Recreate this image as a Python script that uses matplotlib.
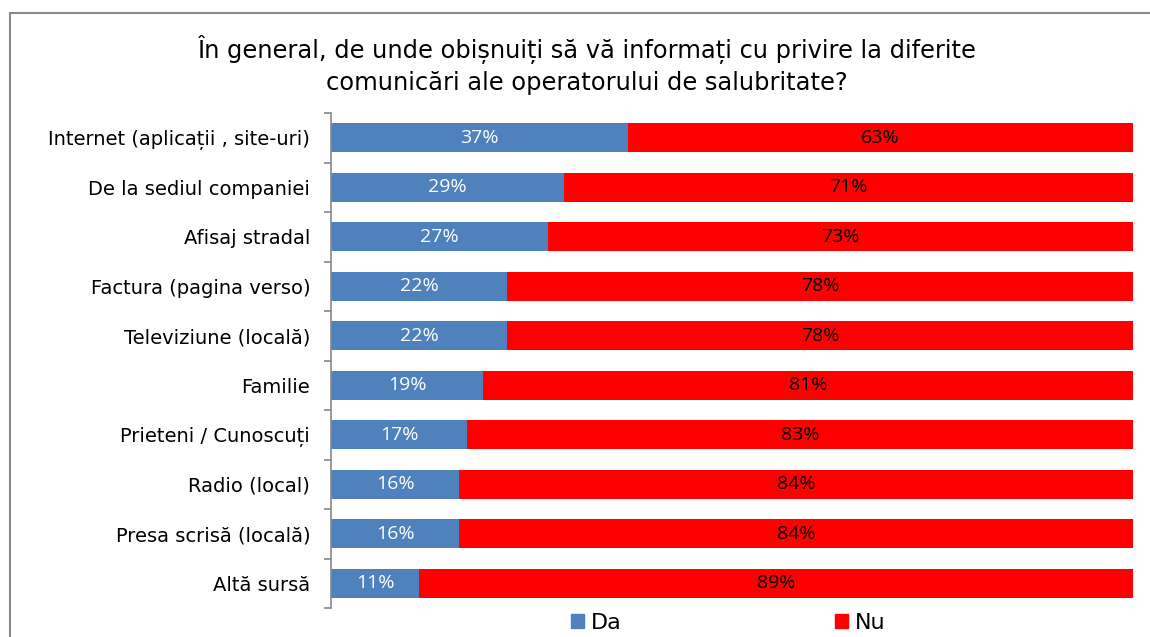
import matplotlib.pyplot as plt
import numpy as np
from matplotlib.patches import Rectangle, Patch

categories = [
    "Internet (aplicații , site-uri)",
    "De la sediul companiei",
    "Afisaj stradal",
    "Factura (pagina verso)",
    "Televiziune (locală)",
    "Familie",
    "Prieteni / Cunoscuți",
    "Radio (local)",
    "Presa scrisă (locală)",
    "Altă sursă",
]
da = [37, 29, 27, 22, 22, 19, 17, 16, 16, 11]
nu = [63, 71, 73, 78, 78, 81, 83, 84, 84, 89]
series_names = ["Da", "Nu"]
title = ("În general, de unde obișnuiți să vă informați cu privire la diferite\n"
         "comunicări ale operatorului de salubritate?")

BLUE = "#4F81BD"
RED = "#FF0000"

fig = plt.figure(figsize=(11.5, 6.37), dpi=100)
ax = fig.add_axes([0.2878, 0.0455, 0.6974, 0.7771])

y = np.arange(len(categories))
ax.barh(y, da, height=0.59, color=BLUE, label=series_names[0])
ax.barh(y, nu, left=da, height=0.59, color=RED, label=series_names[1])

# etichete cu procente in mijlocul fiecarui segment
for i in range(len(categories)):
    ax.text(da[i] / 2, y[i], f"{da[i]}%", ha="center", va="center",
            color="white", fontsize=14, family="Open Sans")
    ax.text(da[i] + nu[i] / 2, y[i], f"{nu[i]}%", ha="center", va="center",
            color="black", fontsize=14, family="Open Sans")

ax.set_xlim(0, 100)
ax.set_ylim(len(categories) - 0.5, -0.5)
ax.set_yticks(y)
ax.set_yticklabels(categories, fontsize=14)
ax.set_yticks(np.arange(-0.5, len(categories), 1.0), minor=True)
ax.tick_params(axis="y", which="major", length=0, pad=15)
ax.tick_params(axis="y", which="minor", length=5, color="#888888", width=1.2)
ax.set_xticks([])
for side in ["top", "right", "bottom"]:
    ax.spines[side].set_visible(False)
ax.spines["left"].set_color("#888888")
ax.spines["left"].set_linewidth(1.2)

fig.text(0.51, 0.898, title, ha="center", va="center", fontsize=17.4,
         linespacing=1.35)

# chenarul graficului (iese din imagine la dreapta si jos)
fig.patches.append(Rectangle((10 / 1150, -0.1), 1.2, 1 - 13 / 637 + 0.1,
                             transform=fig.transFigure, fill=False,
                             edgecolor="#888888", linewidth=1.5))

handles = [Patch(color=BLUE), Patch(color=RED)]
fig.legend(handles, series_names, loc="center", bbox_to_anchor=(0.633, 0.022),
           ncol=2, frameon=False, fontsize=16, handlelength=0.6,
           handleheight=0.6, handletextpad=0.3, columnspacing=9.6,
           borderpad=0)

fig.savefig("out.png", dpi=100)
